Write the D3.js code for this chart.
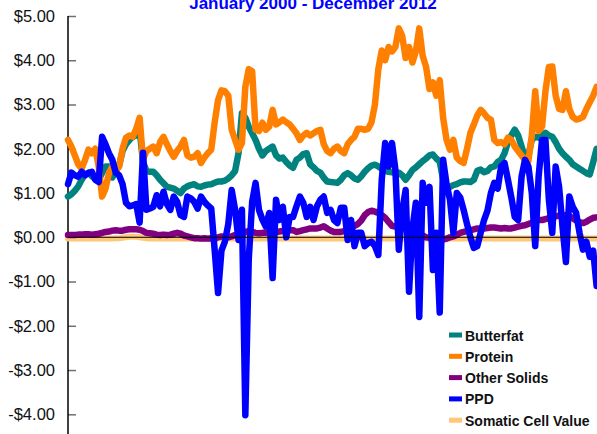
<!DOCTYPE html>
<html>
<head>
<meta charset="utf-8">
<script src="https://cdn.jsdelivr.net/npm/d3@7"></script>
<style>
  body { margin: 0; background: #fff; }
  svg { display: block; font-family: Arial, "Liberation Sans", sans-serif; }
</style>
</head>
<body>
<svg id="chart"></svg>
<script>
var width = 597,
    height = 434;

var title = "January 2000 - December 2012";

// monthly values, one row per year (Jan..Dec), 2000..2012
var butterfat = [
  0.92, 0.97, 1.05, 1.15, 1.30, 1.42, 1.46, 1.38, 1.32, 1.30, 1.45, 1.60,
  1.60, 1.35, 1.50, 1.62, 1.95, 2.10, 2.20, 2.27, 2.30, 2.43, 1.70, 1.50,
  1.48, 1.48, 1.40, 1.30, 1.22, 1.14, 1.12, 1.10, 1.05, 1.00, 1.10, 1.15,
  1.18, 1.20, 1.15, 1.14, 1.17, 1.19, 1.20, 1.23, 1.26, 1.26, 1.28, 1.33,
  1.40, 1.50, 1.90, 2.80, 2.70, 2.50, 2.35, 2.20, 2.00, 1.85, 1.95, 2.00,
  2.05, 1.85, 1.78, 1.80, 1.70, 1.62, 1.57, 1.75, 1.80, 1.88, 1.90, 1.65,
  1.58, 1.50, 1.46, 1.35, 1.26, 1.25, 1.24, 1.23, 1.30, 1.40, 1.45, 1.40,
  1.33, 1.30, 1.38, 1.48, 1.56, 1.62, 1.64, 1.60, 1.55, 1.50, 1.48, 1.47,
  1.46, 1.46, 1.40, 1.30, 1.40, 1.52, 1.58, 1.65, 1.72, 1.78, 1.85, 1.87,
  1.78, 1.71, 1.30, 1.12, 1.14, 1.18, 1.20, 1.24, 1.26, 1.26, 1.25, 1.30,
  1.50, 1.53, 1.47, 1.50, 1.58, 1.60, 1.70, 1.75, 1.90, 2.15, 2.30, 2.43,
  2.30, 2.05, 1.80, 1.85, 2.20, 2.27, 2.25, 2.30, 2.36, 2.30, 2.27, 2.15,
  2.00, 1.90, 1.82, 1.75, 1.65, 1.60, 1.55, 1.50, 1.45, 1.42, 1.70, 2.00
];

var protein = [
  2.20, 2.05, 1.85, 1.65, 1.55, 1.75, 1.98, 1.90, 2.00, 1.60, 0.92, 1.10,
  1.45, 1.60, 1.50, 1.60, 2.00, 2.25, 2.30, 2.27, 2.45, 2.70, 1.75, 1.95,
  2.00, 2.05, 1.90, 2.15, 2.27, 2.10, 1.95, 1.82, 1.95, 2.05, 2.20, 1.85,
  1.80, 1.82, 1.90, 1.68, 1.80, 1.90, 1.98, 2.59, 3.10, 3.32, 3.30, 3.20,
  2.43, 2.20, 1.98, 2.13, 3.40, 3.80, 3.75, 2.43, 2.40, 2.59, 2.43, 2.50,
  2.88, 2.55, 2.60, 2.66, 2.60, 2.55, 2.45, 2.35, 2.20, 2.30, 2.36, 2.30,
  2.35, 2.40, 2.43, 2.10, 1.95, 1.90, 2.00, 2.05, 1.95, 1.90, 2.10, 2.20,
  2.27, 2.45, 2.45, 2.43, 2.45, 2.60, 3.00, 3.80, 4.22, 4.00, 4.30, 4.20,
  4.30, 4.72, 4.55, 4.05, 4.30, 3.95, 4.20, 4.72, 4.10, 3.85, 3.35, 3.50,
  3.20, 3.55, 2.70, 2.20, 1.98, 2.20, 1.80, 1.72, 1.68, 2.00, 2.36, 2.55,
  2.75, 2.88, 2.80, 2.70, 2.66, 2.20, 2.13, 2.15, 2.10, 2.25, 2.20, 2.05,
  1.95, 1.85, 1.75, 1.72, 2.30, 3.30, 2.40, 2.50, 3.30, 3.85, 3.86, 3.20,
  2.90, 2.88, 3.30, 2.90, 2.72, 2.66, 2.68, 2.72, 2.90, 3.05, 3.20, 3.40
];

var otherSolids = [
  0.05, 0.05, 0.05, 0.06, 0.06, 0.07, 0.07, 0.06, 0.07, 0.08, 0.10, 0.12,
  0.13, 0.15, 0.16, 0.15, 0.15, 0.17, 0.18, 0.18, 0.18, 0.17, 0.14, 0.10,
  0.09, 0.08, 0.06, 0.05, 0.06, 0.05, 0.06, 0.08, 0.10, 0.08, 0.04, 0.02,
  0.00, -0.02, -0.02, -0.03, -0.02, -0.03, -0.02, -0.03, 0.00, 0.02, 0.01, 0.00,
  0.02, 0.05, 0.05, 0.05, 0.12, 0.14, 0.12, 0.10, 0.09, 0.10, 0.10, 0.11,
  0.12, 0.12, 0.13, 0.14, 0.15, 0.16, 0.16, 0.12, 0.14, 0.16, 0.18, 0.20,
  0.20, 0.20, 0.22, 0.25, 0.20, 0.15, 0.12, 0.12, 0.12, 0.14, 0.16, 0.20,
  0.26, 0.30, 0.38, 0.50, 0.57, 0.60, 0.58, 0.55, 0.50, 0.44, 0.35, 0.26,
  0.24, 0.24, 0.25, 0.24, 0.20, 0.14, 0.07, 0.05, 0.04, 0.00, -0.01, -0.03,
  -0.05, -0.04, -0.05, -0.03, 0.00, 0.02, 0.05, 0.10, 0.12, 0.14, 0.16, 0.18,
  0.20, 0.20, 0.20, 0.21, 0.22, 0.22, 0.21, 0.20, 0.21, 0.20, 0.20, 0.22,
  0.24, 0.26, 0.27, 0.30, 0.33, 0.36, 0.39, 0.39, 0.41, 0.43, 0.45, 0.47,
  0.49, 0.50, 0.50, 0.48, 0.43, 0.38, 0.34, 0.32, 0.35, 0.40, 0.44, 0.45
];

var ppd = [
  1.20, 1.46, 1.40, 1.37, 1.48, 1.40, 1.45, 1.48, 1.30, 1.25, 2.27, 2.10,
  1.90, 1.75, 1.46, 1.40, 1.20, 0.78, 0.70, 0.72, 0.75, 0.33, 1.91, 0.62,
  0.65, 0.69, 0.95, 0.70, 1.03, 0.75, 0.62, 0.92, 0.80, 0.50, 0.46, 0.92,
  0.88, 0.80, 0.65, 0.92, 0.80, 0.72, 0.65, -0.28, -1.26, -0.30, -0.10, 0.30,
  1.07, 0.62, -0.06, 0.62, -4.02, -0.50, 0.80, 1.23, 0.62, 0.40, 0.24, 0.55,
  -0.92, 0.85, 0.39, 0.69, 0.00, 0.46, 0.46, 0.70, 0.92, 0.78, 0.46, 0.69,
  0.39, 0.70, 0.85, 0.92, 0.55, 0.62, 0.39, 0.32, 0.67, 0.67, -0.06, 0.39,
  -0.20, 0.10, 0.10, -0.20, -0.13, -0.10, -0.20, -0.40, 1.30, 2.13, 1.60, 2.13,
  1.53, -0.28, 0.60, 1.07, -1.23, 0.20, 0.78, -1.80, 1.23, 0.78, 1.14, -0.74,
  0.10, -1.70, 1.75, 1.20, 0.85, 0.10, 1.00, 0.90, 0.62, 0.30, 0.00, -0.24,
  -0.20, 0.10, 0.39, 0.60, 1.00, 1.23, 1.10, 1.60, 1.68, 1.30, 0.90, 0.46,
  0.39, 1.37, 1.75, 1.60, 1.00, -0.20, 1.37, 2.20, 2.20, 0.85, 0.10, 1.60,
  1.14, 0.24, -0.56, 0.92, 0.69, 0.55, 0.10, -0.28, -0.10, -0.44, -0.30, -1.10
];

var somatic = [
  -0.03, -0.03, -0.03, -0.03, -0.03, -0.03, -0.03, -0.03, -0.03, -0.03, -0.03, -0.03,
  -0.03, -0.03, -0.02, -0.02, -0.01, 0.00, 0.01, 0.01, 0.01, 0.00, -0.01, -0.02,
  -0.03, -0.03, -0.03, -0.03, -0.03, -0.03, -0.03, -0.03, -0.03, -0.03, -0.03, -0.03,
  -0.03, -0.03, -0.03, -0.03, -0.03, -0.03, -0.03, -0.03, -0.03, -0.03, -0.03, -0.03,
  -0.03, -0.03, -0.03, -0.03, -0.03, -0.03, -0.03, -0.03, -0.03, -0.03, -0.03, -0.03,
  -0.03, -0.03, -0.03, -0.03, -0.03, -0.03, -0.03, -0.03, -0.03, -0.03, -0.03, -0.03,
  -0.03, -0.03, -0.03, -0.03, -0.03, -0.03, -0.03, -0.03, -0.03, -0.03, -0.03, -0.03,
  -0.03, -0.03, -0.03, -0.03, -0.03, -0.03, -0.03, -0.03, -0.03, -0.03, -0.03, -0.03,
  -0.03, -0.03, -0.03, -0.03, -0.03, -0.03, -0.03, -0.03, -0.03, -0.03, -0.03, -0.03,
  -0.03, -0.03, -0.03, -0.03, -0.03, -0.03, -0.03, -0.03, -0.03, -0.03, -0.03, -0.03,
  -0.03, -0.03, -0.03, -0.03, -0.03, -0.03, -0.03, -0.03, -0.03, -0.03, -0.03, -0.03,
  -0.03, -0.03, -0.03, -0.03, -0.03, -0.03, -0.03, -0.03, -0.03, -0.03, -0.03, -0.03,
  -0.03, -0.03, -0.03, -0.03, -0.03, -0.03, -0.03, -0.03, -0.03, -0.03, -0.03, -0.03
];

var yTicks = [5, 4, 3, 2, 1, 0, -1, -2, -3, -4];

var series = [
  { name: "Butterfat", values: butterfat, color: "#00827f", width: 6.5 },
  { name: "Protein", values: protein, color: "#ff8000", width: 6.5 },
  { name: "Other Solids", values: otherSolids, color: "#800080", width: 6.5 },
  { name: "PPD", values: ppd, color: "#0000ff", width: 6.5 },
  { name: "Somatic Cell Value", values: somatic, color: "#ffc878", width: 6 }
];

var svg = d3.select("#chart")
    .attr("width", width)
    .attr("height", height);

var x = d3.scaleLinear()
    .domain([0, butterfat.length - 1])
    .range([68, 596.6]);

var y = d3.scaleLinear()
    .domain([-4, 5])
    .range([414.3, 16]);

// title (partly cut off at the top, as in the original)
svg.append("text")
    .attr("x", 313)
    .attr("y", 9)
    .attr("text-anchor", "middle")
    .style("font-size", "17px")
    .style("font-weight", "bold")
    .style("fill", "#0000ff")
    .text(title);

// y axis: ticks point inwards, labels on the left
var yAxis = svg.append("g")
    .attr("transform", "translate(68,0)")
    .call(d3.axisLeft(y)
        .tickValues(yTicks)
        .tickSizeInner(-8)
        .tickSizeOuter(0)
        .tickPadding(13)
        .tickFormat(function(d) { return (d < 0 ? "-$" : "$") + Math.abs(d).toFixed(2); }));
yAxis.select(".domain").remove();
yAxis.selectAll(".tick line").attr("stroke", "#707070").attr("stroke-width", 1.5);
yAxis.selectAll(".tick text")
    .style("font-size", "16.5px")
    .style("font-family", "Arial, 'Liberation Sans', sans-serif")
    .attr("fill", "#111");

svg.append("line")
    .attr("x1", 68).attr("x2", 68)
    .attr("y1", y(5)).attr("y2", height)
    .attr("stroke", "#000")
    .attr("stroke-width", 1.5);

var line = d3.line()
    .x(function(d, i) { return x(i); })
    .y(function(d) { return y(d); });

// somatic underneath, then the rest in legend order
var drawOrder = [4, 0, 1, 2, 3];
drawOrder.forEach(function(k) {
    var s = series[k];
    svg.append("path")
        .datum(s.values)
        .attr("d", line)
        .attr("fill", "none")
        .attr("stroke", s.color)
        .attr("stroke-width", s.width)
        .attr("stroke-linejoin", "round")
        .attr("stroke-linecap", "round");
});

// zero line
svg.append("line")
    .attr("x1", 68).attr("x2", width)
    .attr("y1", y(0)).attr("y2", y(0))
    .attr("stroke", "#000")
    .attr("stroke-width", 1);

// legend
var legend = svg.append("g")
    .attr("transform", "translate(449,335)");

var item = legend.selectAll("g")
    .data(series)
    .enter().append("g")
    .attr("transform", function(d, i) { return "translate(0," + (i * 21.3) + ")"; });

item.append("rect")
    .attr("x", 0)
    .attr("y", -2.5)
    .attr("width", 13)
    .attr("height", 5)
    .attr("fill", function(d) { return d.color; });

item.append("text")
    .attr("x", 16)
    .attr("y", 5.5)
    .style("font-size", "14px")
    .style("font-weight", "bold")
    .style("fill", "#111")
    .text(function(d) { return d.name; });
</script>
</body>
</html>
